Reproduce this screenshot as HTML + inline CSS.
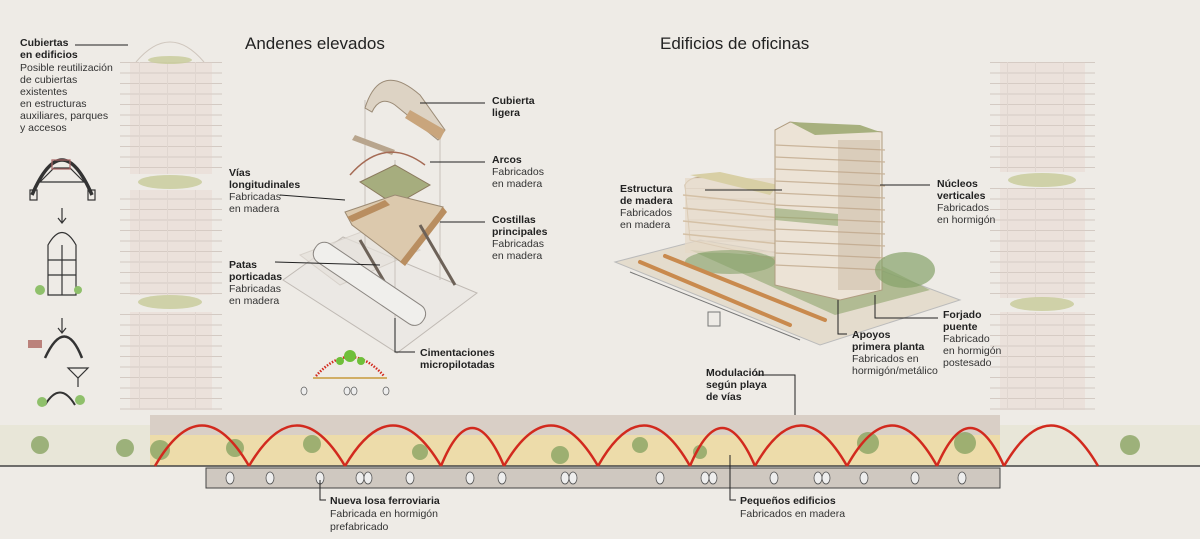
<!DOCTYPE html>
<html><head><meta charset="utf-8"><style>
html,body{margin:0;padding:0;background:#eeebe6}
svg{display:block}
text{font-family:"Liberation Sans",sans-serif;fill:#222}
.b{font-weight:bold;font-size:10.5px}
.r{font-size:10.5px;fill:#333}
.h{font-size:17px;fill:#222}
</style></head><body>
<svg width="1200" height="539" viewBox="0 0 1200 539" xmlns="http://www.w3.org/2000/svg">
<rect width="1200" height="539" fill="#eeebe6"/>
<defs>
<pattern id="fl" width="28" height="10.5" patternUnits="userSpaceOnUse"><rect width="28" height="10.5" fill="#ebe1db"/><line x1="0" y1="10" x2="28" y2="10" stroke="#d6cbc4" stroke-width="1"/><line x1="27.5" y1="0" x2="27.5" y2="10.5" stroke="#e0d6d0" stroke-width="1"/></pattern>
<pattern id="sl" width="100" height="10.5" patternUnits="userSpaceOnUse"><line x1="0" y1="10" x2="100" y2="10" stroke="#d3cac3" stroke-width="1"/></pattern>
</defs>
<!-- left tower -->
<path d="M136 62 Q170 22 204 62" fill="none" stroke="#cfc6bd"/>
<rect x="120" y="62" width="102" height="112" fill="url(#sl)"/>
<rect x="130" y="62" width="82" height="112" fill="url(#fl)"/>
<rect x="120" y="190" width="102" height="105" fill="url(#sl)"/>
<rect x="130" y="190" width="82" height="105" fill="url(#fl)"/>
<rect x="120" y="312" width="102" height="98" fill="url(#sl)"/>
<rect x="130" y="312" width="82" height="98" fill="url(#fl)"/>
<g fill="#c9cc9c" opacity=".85"><ellipse cx="170" cy="60" rx="22" ry="4"/><ellipse cx="170" cy="182" rx="32" ry="7"/><ellipse cx="170" cy="302" rx="32" ry="7"/></g>
<!-- right tower -->
<rect x="990" y="62" width="105" height="110" fill="url(#sl)"/>
<rect x="1000" y="62" width="85" height="110" fill="url(#fl)"/>
<rect x="990" y="188" width="105" height="110" fill="url(#sl)"/>
<rect x="1000" y="188" width="85" height="110" fill="url(#fl)"/>
<rect x="990" y="312" width="105" height="98" fill="url(#sl)"/>
<rect x="1000" y="312" width="85" height="98" fill="url(#fl)"/>
<g fill="#c9cc9c" opacity=".85"><ellipse cx="1042" cy="180" rx="34" ry="7"/><ellipse cx="1042" cy="304" rx="32" ry="7"/></g>

<!-- bottom section -->
<rect x="0" y="425" width="1200" height="41" fill="#e4e3cf" opacity=".6"/>
<rect x="150" y="415" width="850" height="51" fill="#eddcaa"/>
<rect x="150" y="415" width="850" height="20" fill="#d9cfc6"/>
<g fill="#8aa463" opacity=".8">
<circle cx="125" cy="448" r="9"/><circle cx="160" cy="450" r="10"/><circle cx="235" cy="448" r="9"/><circle cx="312" cy="444" r="9"/><circle cx="420" cy="452" r="8"/><circle cx="560" cy="455" r="9"/><circle cx="640" cy="445" r="8"/><circle cx="700" cy="452" r="7"/><circle cx="868" cy="443" r="11"/><circle cx="965" cy="443" r="11"/><circle cx="1130" cy="445" r="10"/><circle cx="40" cy="445" r="9"/>
</g>
<line x1="0" y1="466" x2="1200" y2="466" stroke="#444" stroke-width="1.5"/>
<rect x="206" y="468" width="794" height="20" fill="#cfc8c0" stroke="#444" stroke-width="1"/>
<g fill="#eee" stroke="#555" stroke-width=".8">
<ellipse cx="230" cy="478" rx="4" ry="6"/><ellipse cx="270" cy="478" rx="4" ry="6"/><ellipse cx="320" cy="478" rx="4" ry="6"/><ellipse cx="360" cy="478" rx="4" ry="6"/><ellipse cx="368" cy="478" rx="4" ry="6"/><ellipse cx="410" cy="478" rx="4" ry="6"/><ellipse cx="470" cy="478" rx="4" ry="6"/><ellipse cx="502" cy="478" rx="4" ry="6"/><ellipse cx="565" cy="478" rx="4" ry="6"/><ellipse cx="573" cy="478" rx="4" ry="6"/><ellipse cx="660" cy="478" rx="4" ry="6"/><ellipse cx="705" cy="478" rx="4" ry="6"/><ellipse cx="713" cy="478" rx="4" ry="6"/><ellipse cx="774" cy="478" rx="4" ry="6"/><ellipse cx="818" cy="478" rx="4" ry="6"/><ellipse cx="826" cy="478" rx="4" ry="6"/><ellipse cx="864" cy="478" rx="4" ry="6"/><ellipse cx="915" cy="478" rx="4" ry="6"/><ellipse cx="962" cy="478" rx="4" ry="6"/>
</g>
<g fill="none" stroke="#d22a1e" stroke-width="2.5">
<path d="M155 466 Q202 385 249 466"/><path d="M249 466 Q297 385 345 466"/><path d="M345 466 Q393 385 441 466"/><path d="M441 466 Q472 390 504 466"/><path d="M504 466 Q551 385 598 466"/><path d="M598 466 Q644 385 690 466"/><path d="M690 466 Q722 390 755 466"/><path d="M755 466 Q801 385 847 466"/><path d="M847 466 Q892 385 937 466"/><path d="M937 466 Q970 390 1004 466"/><path d="M1004 466 Q1051 385 1098 466"/>
</g>

<!-- left small diagrams -->
<g fill="none" stroke="#333" stroke-width="1.2">
<path d="M32 195 Q62 125 92 195" stroke-width="3.5"/><path d="M40 182 L84 182 L70 168 L54 168 Z"/><rect x="52" y="160" width="18" height="9" stroke="#a66"/>
<rect x="30" y="190" width="7" height="10"/><rect x="88" y="190" width="7" height="10"/>
<line x1="62" y1="208" x2="62" y2="222"/><path d="M58 218 L62 223 L66 218"/>
<path d="M48 245 Q62 220 76 245 L76 295 L48 295 Z"/><line x1="48" y1="260" x2="76" y2="260"/><line x1="48" y1="275" x2="76" y2="275"/><line x1="62" y1="245" x2="62" y2="295"/>
<line x1="62" y1="318" x2="62" y2="332"/><path d="M58 328 L62 333 L66 328"/>
<path d="M45 358 Q65 315 82 358" stroke-width="2.5"/>
<path d="M68 368 L88 368 L78 378 Z"/><line x1="78" y1="378" x2="78" y2="387"/>
<path d="M45 405 Q60 380 75 405" stroke-width="2"/>
</g>
<rect x="28" y="340" width="14" height="8" fill="#a5554d" opacity=".7"/>
<g fill="#8fc06b"><circle cx="40" cy="290" r="5"/><circle cx="78" cy="290" r="4"/><circle cx="42" cy="402" r="5"/><circle cx="80" cy="400" r="5"/></g>

<!-- middle axonometric -->
<g>
<polygon points="283,280 343,237 477,293 397,353" fill="#ebe8e4" stroke="#c0bab4"/>
<polygon points="300,255 380,225 420,250 340,285" fill="#e6e2dc" stroke="#cfc8c0" opacity=".7"/>
<g stroke="#c8c2bb" fill="none"><line x1="365" y1="100" x2="365" y2="250"/><line x1="440" y1="130" x2="440" y2="280"/><line x1="395" y1="160" x2="395" y2="330"/></g>
<path d="M365 108 Q380 60 420 95 L445 130 L438 140 L395 105 Q380 95 372 112 Z" fill="#ddd3c4" stroke="#9b8b76"/>
<polygon points="410,110 445,130 440,140 405,118" fill="#c9a57c"/>
<polygon points="355,135 395,150 392,155 352,140" fill="#b8a58d"/>
<path d="M350 175 Q385 135 425 165" fill="none" stroke="#a56b55" stroke-width="1.5"/>
<polygon points="360,182 395,165 430,185 395,205" fill="#a6ad7e" stroke="#8b7a5e"/>
<polygon points="345,212 395,195 443,207 405,265 352,225" fill="#dcc9ad" stroke="#9b8a73"/>
<polygon points="347,217 385,200 390,205 352,222" fill="#b98e60"/>
<polygon points="400,262 443,207 447,212 405,266" fill="#b98e60"/>
<g stroke="#6d6258" stroke-width="3"><line x1="360" y1="240" x2="395" y2="300"/><line x1="420" y1="225" x2="455" y2="285"/></g>
<g transform="rotate(34 370 283)"><rect x="305" y="273" width="130" height="22" rx="10" fill="#f0efec" stroke="#8a8580"/></g>
</g>
<path d="M316 376 Q350 338 384 376" fill="none" stroke="#d22a1e" stroke-width="2.5" stroke-dasharray="1.5 1.5"/>
<circle cx="350" cy="356" r="6" fill="#6fbf3a"/><circle cx="340" cy="361" r="4" fill="#6fbf3a"/><circle cx="361" cy="361" r="4" fill="#6fbf3a"/>
<line x1="313" y1="378" x2="387" y2="378" stroke="#c79a3a" stroke-width="1.5"/>
<g fill="#eee" stroke="#555" stroke-width=".7"><ellipse cx="304" cy="391" rx="3" ry="4"/><ellipse cx="347" cy="391" rx="3" ry="4"/><ellipse cx="354" cy="391" rx="3" ry="4"/><ellipse cx="386" cy="391" rx="3" ry="4"/></g>

<!-- right axonometric -->
<g>
<polygon points="615,262 820,345 960,300 880,270 700,240" fill="#e4dccd" stroke="#bbb"/>
<polygon points="690,250 835,315 930,290 880,265" fill="#8fa56d" opacity=".6"/>
<path d="M685 185 Q690 175 710 178 L770 185 Q780 195 778 210 L778 260 L690 240 Z" fill="url(#sl)" stroke="#c2ac8e"/>
<rect x="685" y="178" width="93" height="75" fill="#e6d8c6" opacity=".7"/>
<g stroke="#d4c0a5" stroke-width="1.5"><line x1="683" y1="195" x2="780" y2="205"/><line x1="683" y1="208" x2="780" y2="218"/><line x1="683" y1="221" x2="780" y2="231"/><line x1="683" y1="234" x2="780" y2="244"/></g>
<polygon points="690,175 720,172 778,185 770,195" fill="#d8cfa5"/>
<polygon points="775,130 790,122 882,132 882,290 840,300 775,285" fill="#ece3d6" stroke="#b09c80"/>
<g stroke="#c9b49a" stroke-width="1.2">
<line x1="775" y1="145" x2="885" y2="150"/><line x1="775" y1="157" x2="885" y2="162"/><line x1="775" y1="169" x2="885" y2="174"/><line x1="775" y1="181" x2="885" y2="186"/><line x1="775" y1="193" x2="885" y2="198"/><line x1="775" y1="205" x2="885" y2="210"/><line x1="775" y1="217" x2="885" y2="222"/><line x1="775" y1="229" x2="885" y2="234"/><line x1="775" y1="241" x2="885" y2="246"/><line x1="775" y1="253" x2="885" y2="258"/><line x1="775" y1="265" x2="885" y2="270"/>
</g>
<rect x="838" y="140" width="42" height="150" fill="#b9a28a" opacity=".35"/>
<polygon points="790,122 860,125 880,132 815,135" fill="#a7b07e"/>
<polygon points="775,208 838,214 838,226 775,220" fill="#8fa56d" opacity=".6"/>
<ellipse cx="905" cy="270" rx="30" ry="18" fill="#86a26a" opacity=".7"/>
<ellipse cx="730" cy="262" rx="45" ry="12" fill="#86a26a" opacity=".6"/>
<g stroke="#c98a4e" stroke-width="4" stroke-linecap="round"><line x1="640" y1="262" x2="790" y2="325"/><line x1="665" y1="256" x2="825" y2="320"/></g>
<line x1="630" y1="272" x2="800" y2="340" stroke="#777"/>
<rect x="708" y="312" width="12" height="14" fill="none" stroke="#777"/>
</g>

<!-- headings -->
<text x="245" y="49" class="h">Andenes elevados</text>
<text x="660" y="49" class="h">Edificios de oficinas</text>

<!-- leader lines -->
<g stroke="#222" stroke-width="1" fill="none">
<line x1="75" y1="45" x2="128" y2="45"/>
<line x1="420" y1="103" x2="485" y2="103"/>
<line x1="430" y1="162" x2="485" y2="162"/>
<line x1="440" y1="222" x2="485" y2="222"/>
<line x1="280" y1="195" x2="345" y2="200"/>
<line x1="275" y1="262" x2="380" y2="265"/>
<path d="M395 318 L395 352 L415 352"/>
<line x1="705" y1="190" x2="782" y2="190"/>
<line x1="880" y1="185" x2="930" y2="185"/>
<path d="M838 300 L838 334 L847 334"/>
<path d="M875 295 L875 318 L938 318"/>
<path d="M755 375 L795 375 L795 415"/>
<path d="M320 480 L320 500 L326 500"/>
<path d="M730 455 L730 500 L736 500"/>
</g>

<!-- labels -->
<text x="20" y="46" class="b">Cubiertas</text><text x="20" y="58" class="b">en edificios</text>
<text x="20" y="71" class="r">Posible reutilización</text><text x="20" y="83" class="r">de cubiertas</text><text x="20" y="95" class="r">existentes</text><text x="20" y="107" class="r">en estructuras</text><text x="20" y="119" class="r">auxiliares, parques</text><text x="20" y="131" class="r">y accesos</text>

<text x="492" y="104" class="b">Cubierta</text><text x="492" y="116" class="b">ligera</text>
<text x="492" y="163" class="b">Arcos</text><text x="492" y="175" class="r">Fabricados</text><text x="492" y="187" class="r">en madera</text>
<text x="492" y="223" class="b">Costillas</text><text x="492" y="235" class="b">principales</text><text x="492" y="247" class="r">Fabricadas</text><text x="492" y="259" class="r">en madera</text>
<text x="229" y="176" class="b">Vías</text><text x="229" y="188" class="b">longitudinales</text><text x="229" y="200" class="r">Fabricadas</text><text x="229" y="212" class="r">en madera</text>
<text x="229" y="268" class="b">Patas</text><text x="229" y="280" class="b">porticadas</text><text x="229" y="292" class="r">Fabricadas</text><text x="229" y="304" class="r">en madera</text>
<text x="420" y="356" class="b">Cimentaciones</text><text x="420" y="368" class="b">micropilotadas</text>

<text x="620" y="192" class="b">Estructura</text><text x="620" y="204" class="b">de madera</text><text x="620" y="216" class="r">Fabricados</text><text x="620" y="228" class="r">en madera</text>
<text x="937" y="187" class="b">Núcleos</text><text x="937" y="199" class="b">verticales</text><text x="937" y="211" class="r">Fabricados</text><text x="937" y="223" class="r">en hormigón</text>
<text x="852" y="338" class="b">Apoyos</text><text x="852" y="350" class="b">primera planta</text><text x="852" y="362" class="r">Fabricados en</text><text x="852" y="374" class="r">hormigón/metálico</text>
<text x="943" y="318" class="b">Forjado</text><text x="943" y="330" class="b">puente</text><text x="943" y="342" class="r">Fabricado</text><text x="943" y="354" class="r">en hormigón</text><text x="943" y="366" class="r">postesado</text>
<text x="706" y="376" class="b">Modulación</text><text x="706" y="388" class="b">según playa</text><text x="706" y="400" class="b">de vías</text>
<text x="330" y="504" class="b">Nueva losa ferroviaria</text><text x="330" y="517" class="r">Fabricada en hormigón</text><text x="330" y="530" class="r">prefabricado</text>
<text x="740" y="504" class="b">Pequeños edificios</text><text x="740" y="517" class="r">Fabricados en madera</text>
</svg>
</body></html>
